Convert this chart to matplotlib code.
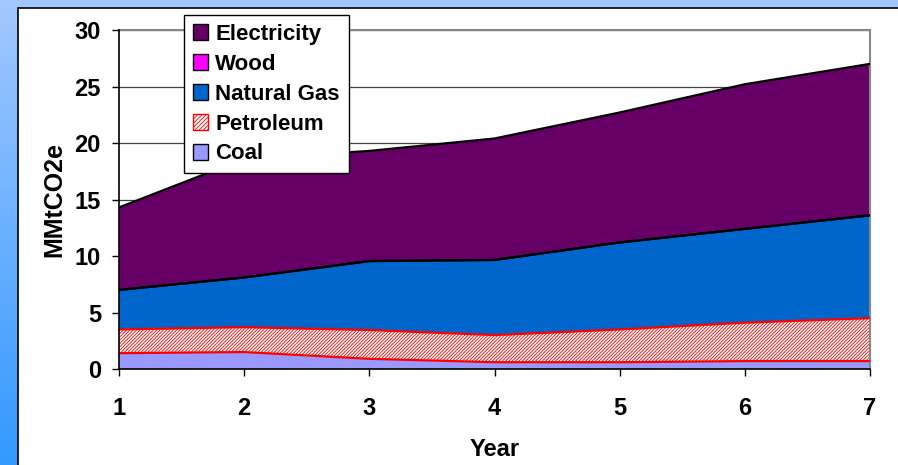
#!/usr/bin/env python3
# -*- coding: utf-8 -*-

import numpy as np
import matplotlib
matplotlib.use("Agg")
import matplotlib.pyplot as plt
from matplotlib.patches import Rectangle, Patch
from matplotlib.colors import LinearSegmentedColormap

plt.rcParams["font.family"] = "Liberation Sans"
plt.rcParams["font.weight"] = "bold"
plt.rcParams["hatch.linewidth"] = 0.6

# ====== Data (MMtCO2e per sector, not cumulative) ======
years = [1, 2, 3, 4, 5, 6, 7]
coal = [1.4, 1.5, 0.9, 0.6, 0.6, 0.7, 0.7]
petroleum = [2.1, 2.2, 2.55, 2.4, 2.9, 3.4, 3.8]
natural_gas = [3.5, 4.4, 6.1, 6.65, 7.7, 8.3, 9.1]
wood = [0.0, 0.0, 0.0, 0.0, 0.0, 0.0, 0.0]
electricity = [7.3, 10.5, 9.75, 10.75, 11.5, 12.8, 13.4]

fig = plt.figure(figsize=(8.98, 4.65), dpi=100)

# ====== blue gradient background + white panel ======
bg = fig.add_axes([0, 0, 1, 1], zorder=-10)
cmap = LinearSegmentedColormap.from_list("bg", ["#3399ff", "#a3c8ff"])
grad = np.linspace(0, 1, 256).reshape(-1, 1)
bg.imshow(grad, aspect="auto", cmap=cmap, origin="lower", extent=[0, 1, 0, 1])
bg.add_patch(Rectangle((18 / 898, -0.01), 1.0, 1 - 8 / 465 + 0.01,
                       facecolor="white", edgecolor="black", linewidth=1.2))
bg.set_xlim(0, 1)
bg.set_ylim(0, 1)
bg.axis("off")

ax = fig.add_axes([119 / 898, 1 - 369 / 465, (870 - 119) / 898, (369 - 30) / 465])
ax.set_facecolor("none")

x = np.array(years)
layers = [
    (coal, "#9999ff", "#9999ff", "", "Coal"),
    (petroleum, "white", "red", "/" * 10, "Petroleum"),
    (natural_gas, "#0066cc", "black", "", "Natural Gas"),
    (wood, "#ff00ff", "black", "", "Wood"),
    (electricity, "#660066", "black", "", "Electricity"),
]

base = np.zeros(len(years))
for vals, fc, ec, hatch, name in layers:
    top = base + np.array(vals)
    if hatch:
        ax.fill_between(x, base, top, facecolor=fc, edgecolor=ec,
                        hatch=hatch, linewidth=0, zorder=2)
    else:
        ax.fill_between(x, base, top, facecolor=fc, linewidth=0, zorder=2)
    ax.plot(x, top, color=ec if name != "Coal" else "red", linewidth=1.6, zorder=3)
    base = top

ax.set_xlim(1, 7)
ax.set_ylim(0, 30)
ax.set_xticks(years)
ax.set_yticks([0, 5, 10, 15, 20, 25, 30])
ax.tick_params(labelsize=17, direction="out", length=5, width=1)
ax.tick_params(axis="x", pad=15)
ax.tick_params(axis="y", pad=8)
ax.yaxis.grid(True, color="#444444", linewidth=0.9, zorder=0)
ax.set_axisbelow(True)

for s in ["top", "right"]:
    ax.spines[s].set_color("#888888")
    ax.spines[s].set_linewidth(1.5)
for s in ["left", "bottom"]:
    ax.spines[s].set_color("black")
    ax.spines[s].set_linewidth(1.2)
    ax.spines[s].set_zorder(5)

ax.set_xlabel("Year", fontsize=17, fontweight="bold", labelpad=13)
ax.set_ylabel("MMtCO2e", fontsize=18, fontweight="bold", labelpad=6)

# ====== legend ======
handles = [
    Patch(facecolor="#660066", edgecolor="black", label="Electricity"),
    Patch(facecolor="#ff00ff", edgecolor="black", label="Wood"),
    Patch(facecolor="#0066cc", edgecolor="black", label="Natural Gas"),
    Patch(facecolor="white", edgecolor="red", hatch="/" * 8, label="Petroleum"),
    Patch(facecolor="#9999ff", edgecolor="black", label="Coal"),
]
leg = fig.legend(handles=handles, loc="upper left",
                 bbox_to_anchor=(184 / 898, 1 - 15 / 465),
                 fancybox=False, shadow=False, framealpha=1,
                 edgecolor="black", handlelength=0.7, handleheight=0.75,
                 handletextpad=0.3, labelspacing=0.4, borderpad=0.4,
                 borderaxespad=0, prop={"weight": "bold", "size": 16})
leg.get_frame().set_linewidth(1.0)

fig.savefig("out.png", dpi=100)
